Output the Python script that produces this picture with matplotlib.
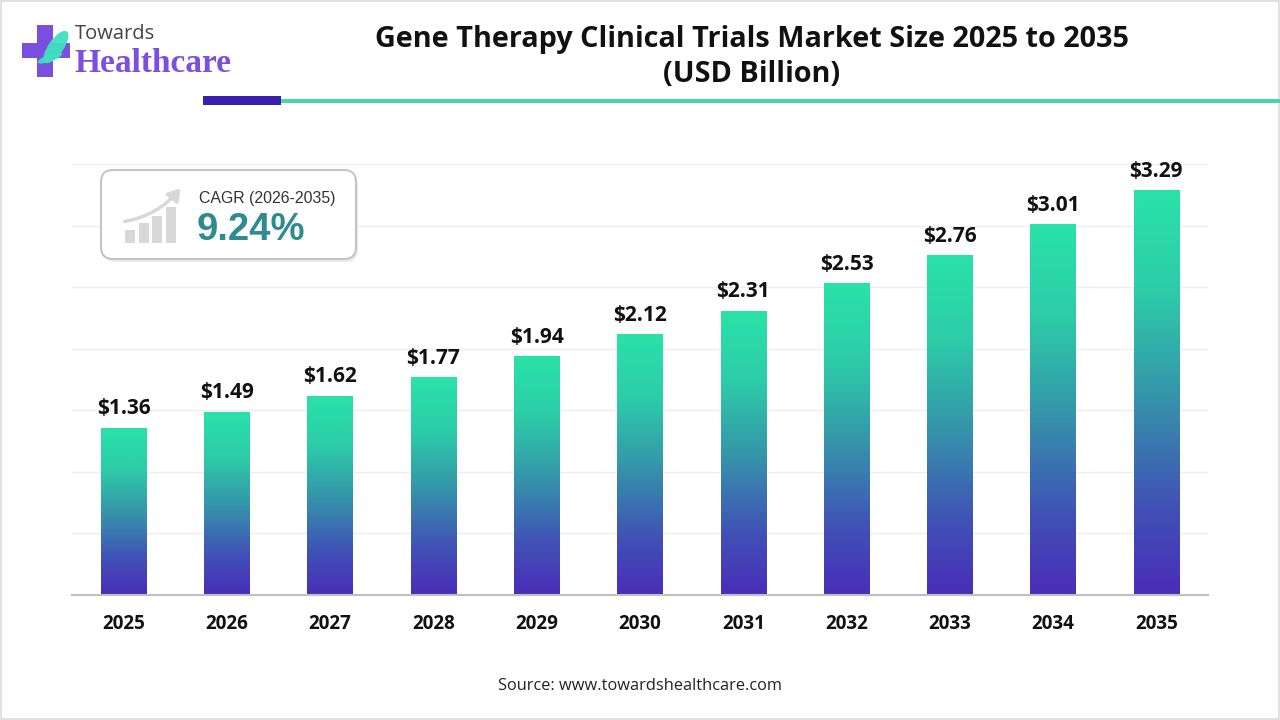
import matplotlib
matplotlib.use("Agg")
import matplotlib.pyplot as plt
import numpy as np
from matplotlib.colors import LinearSegmentedColormap
from matplotlib.patches import FancyBboxPatch, Rectangle, Ellipse, FancyArrowPatch

# ---------------- data ----------------
years = ["2025", "2026", "2027", "2028", "2029", "2030",
         "2031", "2032", "2033", "2034", "2035"]
values = [1.36, 1.49, 1.62, 1.77, 1.94, 2.12, 2.31, 2.53, 2.76, 3.01, 3.29]
value_labels = ["$1.36", "$1.49", "$1.62", "$1.77", "$1.94", "$2.12",
                "$2.31", "$2.53", "$2.76", "$3.01", "$3.29"]
title = "Gene Therapy Clinical Trials Market Size 2025 to 2035\n(USD Billion)"
cagr_label = "CAGR (2026-2035)"
cagr_value = "9.24%"
source = "Source: www.towardshealthcare.com"
icon_bars = [0.35, 0.55, 0.75, 1.0]

W, H = 1280, 720
fig = plt.figure(figsize=(12.8, 7.2), dpi=100)
fig.patch.set_facecolor("white")

# ---------------- main chart ----------------
ax = fig.add_axes([72 / W, 1 - 595 / H, (1208 - 72) / W, (595 - 164) / H])
x = np.arange(len(years))
bars = ax.bar(x, values, width=0.44, color="none", edgecolor="none", zorder=2)

cmap = LinearSegmentedColormap.from_list(
    "g", [(0.0, "#4a2db8"), (0.22, "#4052b6"), (0.5, "#3597aa"),
          (0.75, "#2dcca8"), (1.0, "#2ae2a8")])
grad = np.linspace(0, 1, 256).reshape(-1, 1)
for b in bars:
    x0, y0, w, h = b.get_x(), b.get_y(), b.get_width(), b.get_height()
    im = ax.imshow(grad, cmap=cmap, extent=[x0, x0 + w, y0, y0 + h],
                   origin="lower", aspect="auto", zorder=2, interpolation="bilinear")
    im.set_clip_path(b)

for xi, v, lbl in zip(x, values, value_labels):
    ax.annotate(lbl, (xi, v), xytext=(0, 6), textcoords="offset points",
                ha="center", va="bottom", fontsize=15, fontweight="bold",
                family="Open Sans", color="#111111")

ax.set_xlim(-0.5, len(years) - 0.5)
ax.set_ylim(0, 3.5)
ax.set_yticks(np.arange(0, 3.51, 0.5))
ax.yaxis.grid(True, color="#eeeeee", lw=1)
ax.set_axisbelow(True)
ax.tick_params(axis="y", left=False, labelleft=False)
ax.set_xticks(x)
ax.set_xticklabels(years, fontsize=13.5, fontweight="bold", family="Open Sans", color="#111111")
ax.tick_params(axis="x", length=0, pad=14)
for s in ["left", "right", "top"]:
    ax.spines[s].set_visible(False)
ax.spines["bottom"].set_color("#c0c0c0")
ax.spines["bottom"].set_linewidth(1.5)
ax.patch.set_alpha(0)

# ---------------- overlay (pixel coords) ----------------
ov = fig.add_axes([0, 0, 1, 1], zorder=5)
ov.set_xlim(0, W)
ov.set_ylim(H, 0)
ov.axis("off")
ov.patch.set_alpha(0)

# figure border
ov.add_patch(Rectangle((1, 1), W - 2, H - 2, fill=False, ec="#dcdcdc", lw=1.2))

# header rule
ov.add_patch(Rectangle((281, 98.5), W - 281, 4.5, fc="#45d4b0", ec="none"))
ov.add_patch(Rectangle((203, 96), 78, 9, fc="#3a1eb0", ec="none"))

# logo
ov.add_patch(Rectangle((37, 25), 16, 52, fc="#7a4fe0", ec="none"))
ov.add_patch(Rectangle((22, 43), 48, 15, fc="#7a4fe0", ec="none"))
ov.add_patch(Ellipse((56, 47), 15, 38, angle=35, fc="#3fe0c0", ec="none", alpha=0.95))
ov.add_patch(Ellipse((50, 58), 26, 7, angle=-20, fc="#3fe0c0", ec="none", alpha=0.9))
ov.text(75, 34, "Towards", fontsize=14.5, family="Open Sans", color="#444444",
        ha="left", va="center")
ov.text(74, 64, "Healthcare", fontsize=24, family="Liberation Serif", fontweight="bold",
        color="#7b4fe0", ha="left", va="center")

# title
fig.text(752 / W, 1 - 57 / H, title, ha="center", va="center", fontsize=20.8,
         fontweight="bold", family="Open Sans", color="#111111", linespacing=1.3)

# CAGR box
ov.add_patch(FancyBboxPatch((104, 174), 254, 88, boxstyle="round,pad=0,rounding_size=12",
                            fc="#e6e6e6", ec="none", alpha=0.8, zorder=1))
ov.add_patch(FancyBboxPatch((101, 170), 255, 89, boxstyle="round,pad=0,rounding_size=12",
                            fc="white", ec="#c4c4c4", lw=1.5, zorder=2))
for i, hfrac in enumerate(icon_bars):
    bh = 36 * hfrac
    ov.add_patch(Rectangle((125 + i * 13.5, 243 - bh), 10, bh, fc="#d8d8d8", ec="none", zorder=3))
ov.add_patch(FancyArrowPatch((122, 222), (182, 186), connectionstyle="arc3,rad=0.2",
                             arrowstyle="-|>,head_length=7,head_width=4.5",
                             color="#d8d8d8", lw=2.5, zorder=3))
ov.text(199, 198, cagr_label, fontsize=11.4, family="Liberation Sans", color="#333333",
        ha="left", va="center", zorder=4)
ov.text(197, 230, cagr_value, fontsize=27.5, family="Liberation Sans", fontweight="bold",
        color="#2e8b8f", ha="left", va="center", zorder=4)

# source
ov.text(640, 686, source, fontsize=11.8, family="Open Sans", color="#222222",
        ha="center", va="center")

fig.savefig("out.png", dpi=100, facecolor="white")
